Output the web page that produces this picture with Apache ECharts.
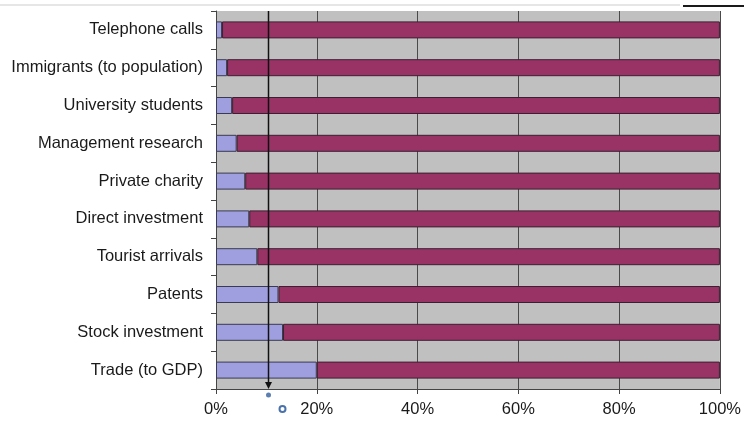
<!DOCTYPE html>
<html>
<head>
<meta charset="utf-8">
<script src="https://cdn.jsdelivr.net/npm/echarts@6/dist/echarts.min.js"></script>
<style>
  html, body { margin: 0; padding: 0; background: #ffffff; }
  #chart { width: 744px; height: 422px; }
</style>
</head>
<body>
<div id="chart"></div>
<script>
// Share of each activity that crosses borders vs. stays domestic (percent)
const categories = [
  'Telephone calls',
  'Immigrants (to population)',
  'University students',
  'Management research',
  'Private charity',
  'Direct investment',
  'Tourist arrivals',
  'Patents',
  'Stock investment',
  'Trade (to GDP)'
];
const internationalShare = [1.2, 2.2, 3.2, 4.1, 5.8, 6.6, 8.2, 12.4, 13.3, 20];
const domesticShare      = [98.8, 97.8, 96.8, 95.9, 94.2, 93.4, 91.8, 87.6, 86.7, 80];
const xTicks = [0, 20, 40, 60, 80, 100];
const markerValue = 10.4;

const chart = echarts.init(document.getElementById('chart'));
const fontFamily = '"Liberation Sans", Arial, sans-serif';

chart.setOption({
  animation: false,
  grid: {
    left: 216, right: 24, top: 11, bottom: 33,
    show: true,
    backgroundColor: '#c0c0c0',
    borderWidth: 0
  },
  xAxis: {
    type: 'value',
    min: xTicks[0],
    max: xTicks[xTicks.length - 1],
    interval: 20,
    axisLine: { show: true, lineStyle: { color: '#444', width: 1 } },
    axisTick: { show: true, length: 5, lineStyle: { color: '#444' } },
    axisLabel: {
      formatter: '{value}%',
      color: '#1a1a1a',
      fontSize: 16.5,
      fontFamily: fontFamily,
      margin: 12
    },
    splitLine: { show: true, lineStyle: { color: '#4a4a4a', width: 1 } }
  },
  yAxis: {
    type: 'category',
    data: categories,
    inverse: true,
    axisLine: { show: true, lineStyle: { color: '#444', width: 1 } },
    axisTick: { show: true, length: 5, lineStyle: { color: '#444' } },
    axisLabel: {
      color: '#1a1a1a',
      fontSize: 16.5,
      fontFamily: fontFamily,
      margin: 13
    },
    splitLine: { show: false }
  },
  series: [
    {
      name: 'International',
      type: 'bar',
      stack: 'share',
      barWidth: 17,
      data: internationalShare,
      itemStyle: { color: '#9f9fe0', borderColor: '#3a3a50', borderWidth: 1 }
    },
    {
      name: 'Domestic',
      type: 'bar',
      stack: 'share',
      barWidth: 17,
      data: domesticShare,
      itemStyle: { color: '#993366', borderColor: '#3a2030', borderWidth: 1 }
    }
  ]
});

// Marker arrow down the plot, plus the small dot and ring beneath it
const mx = Math.round(chart.convertToPixel({ xAxisIndex: 0 }, markerValue)) + 0.5;
const plotTop = 11;
const plotBottom = 422 - 33;
chart.setOption({
  graphic: [
    {
      type: 'line',
      shape: { x1: 0, y1: 5, x2: 680, y2: 5 },
      style: { stroke: '#e6e6e6', lineWidth: 2 },
      silent: true
    },
    {
      type: 'line',
      shape: { x1: 683, y1: 6, x2: 744, y2: 6 },
      style: { stroke: '#1a1a1a', lineWidth: 2 },
      silent: true
    },
    {
      type: 'line',
      shape: { x1: mx, y1: plotTop, x2: mx, y2: plotBottom - 5 },
      style: { stroke: '#111', lineWidth: 1.5 },
      z: 100
    },
    {
      type: 'polygon',
      shape: { points: [[mx - 3.5, plotBottom - 7], [mx + 3.5, plotBottom - 7], [mx, plotBottom]] },
      style: { fill: '#111' },
      z: 100
    },
    {
      type: 'circle',
      shape: { cx: mx, cy: plotBottom + 6, r: 2.5 },
      style: { fill: '#5a7fb0' },
      z: 100
    },
    {
      type: 'circle',
      shape: { cx: mx + 14, cy: plotBottom + 20, r: 3 },
      style: { fill: 'none', stroke: '#4a72aa', lineWidth: 2 },
      z: 100
    }
  ]
});
</script>
</body>
</html>
